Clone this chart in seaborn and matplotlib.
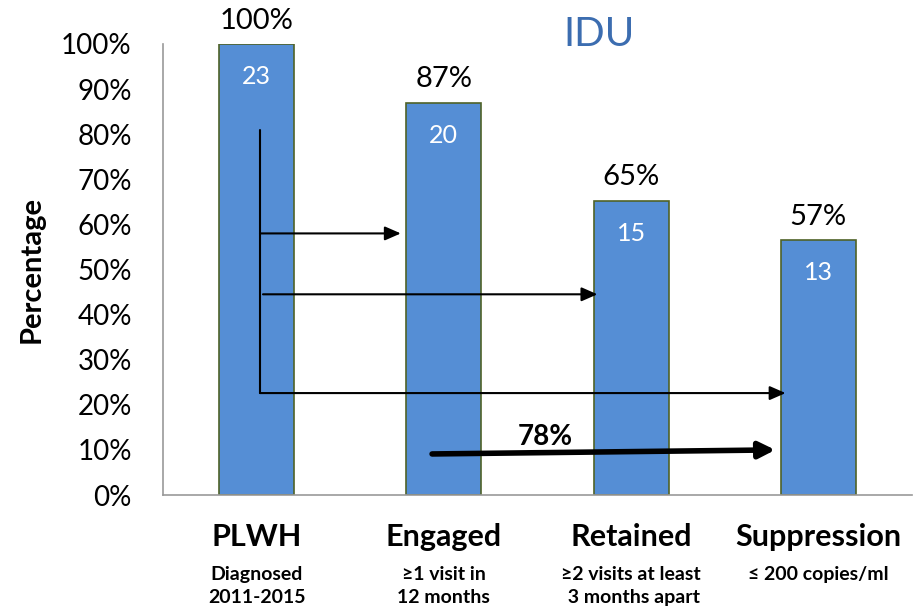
import matplotlib
matplotlib.use("Agg")
import matplotlib.pyplot as plt
import seaborn as sns
import pandas as pd
import numpy as np
from matplotlib.transforms import blended_transform_factory

categories = ["PLWH", "Engaged", "Retained", "Suppression"]
sublabels = ["Diagnosed\n2011-2015", "≥1 visit in\n12 months", "≥2 visits at least\n 3 months apart", "≤ 200 copies/ml"]
counts = [23, 20, 15, 13]
pct_labels = ["100%", "87%", "65%", "57%"]
yticks = [0, 0.1, 0.2, 0.3, 0.4, 0.5, 0.6, 0.7, 0.8, 0.9, 1.0]

sns.set_theme(style="white")
plt.rcParams['font.family'] = ['Lato', 'DejaVu Sans']
plt.rcParams['text.color'] = 'black'
plt.rcParams['axes.labelcolor'] = 'black'
plt.rcParams['xtick.labelcolor'] = 'black'
plt.rcParams['ytick.labelcolor'] = 'black'

fractions = [c / counts[0] for c in counts]
df = pd.DataFrame({"cat": categories, "frac": fractions})

fig = plt.figure(figsize=(9.19, 6.10), dpi=100)
ax = fig.add_axes([163/919, 1-495/610, (912-163)/919, (495-44)/610])

sns.barplot(data=df, x="cat", y="frac", color="#558ED5", width=0.4,
            edgecolor="#4F6228", linewidth=1.2, saturation=1, ax=ax)
ax.set_xlim(-0.5, 3.5)
ax.set_ylim(0, 1.0)
ax.set_yticks(yticks)
ax.set_yticklabels([f"{int(round(t*100))}%" for t in yticks], fontsize=20)
ax.set_xticks([-0.5, 0.5, 1.5, 2.5, 3.5])
ax.set_xticklabels([])
ax.tick_params(axis="x", length=7.5, width=1.2, color="#999999", direction="out")
ax.tick_params(axis="y", length=7.5, width=1.2, color="#999999", direction="out", pad=15)
ax.set_xlabel("")
ax.set_ylabel("Percentage", fontsize=21, fontweight="bold", labelpad=12)
for s in ["top", "right"]:
    ax.spines[s].set_visible(False)
for s in ["left", "bottom"]:
    ax.spines[s].set_color("#999999")
    ax.spines[s].set_linewidth(1.2)

for i, (f, c, p) in enumerate(zip(fractions, counts, pct_labels)):
    ax.text(i, f + 0.052, p, ha="center", va="center", fontsize=21, color="black")
    ax.text(i, f - 0.072, str(c), ha="center", va="center", fontsize=18, color="white")

ax.text(1.828, 1.02, "IDU", ha="center", va="center", fontsize=29, color="#3C6DB0")

trans = blended_transform_factory(ax.transData, ax.transAxes)
for i, (cat, sub) in enumerate(zip(categories, sublabels)):
    ax.text(i, -0.093, cat, transform=trans, ha="center", va="center",
            fontsize=22, fontweight="bold")
    ax.text(i, -0.158, sub, transform=trans, ha="center", va="top",
            fontsize=14, fontweight="bold", linespacing=1.4)

# arrows
ax.plot([0.018, 0.018], [0.81, 0.226], color="black", lw=1.5)
arrow_kw = dict(arrowstyle="-|>,head_length=0.8,head_width=0.35", color="black", lw=1.5,
                shrinkA=0, shrinkB=0)
ax.annotate("", xy=(0.77, 0.58), xytext=(0.018, 0.58), arrowprops=arrow_kw)
ax.annotate("", xy=(1.82, 0.445), xytext=(0.034, 0.445), arrowprops=arrow_kw)
ax.annotate("", xy=(2.825, 0.226), xytext=(0.018, 0.226), arrowprops=arrow_kw)
ax.annotate("", xy=(2.77, 0.10), xytext=(0.937, 0.091),
            arrowprops=dict(arrowstyle="-|>,head_length=0.8,head_width=0.4", color="black", lw=4,
                            shrinkA=0, shrinkB=0))
ax.text(1.54, 0.128, "78%", ha="center", va="center", fontsize=20, fontweight="bold")

fig.savefig("out.png", dpi=100)
